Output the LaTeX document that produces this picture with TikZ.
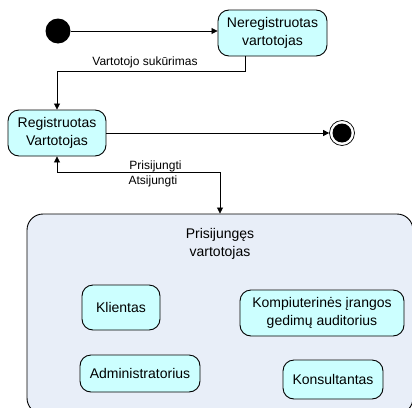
\documentclass[tikz,border=0pt]{standalone}
\usepackage{fontspec}
\setmainfont{Liberation Sans}
\usetikzlibrary{arrows.meta}
\definecolor{statefill}{HTML}{CCFFFF}
\definecolor{groupfill}{HTML}{E8EEF8}
\begin{document}
\begin{tikzpicture}[x=1pt,y=-1pt,
  state/.style={draw=black, line width=0.9pt, fill=statefill, rounded corners=11pt,
    align=center, inner sep=0pt, font=\fontsize{14}{17.5}\selectfont},
  group/.style={draw=black, line width=0.9pt, fill=groupfill, rounded corners=16pt, inner sep=0pt},
  arr/.style={line width=0.8pt, -{Triangle[length=6pt,width=6pt]}},
  arrboth/.style={line width=0.8pt, {Triangle[length=6pt,width=6pt]}-{Triangle[length=6pt,width=6pt]}},
  lbl/.style={font=\fontsize{12}{14}\selectfont, inner sep=0pt, anchor=base}]
\clip (0,0) rectangle (412,407);
\fill[white] (0,0) rectangle (412,407);

% initial and final pseudo-states
\node[circle, fill=black, minimum size=25pt, inner sep=0pt] (start) at (58,31) {};
\node[circle, draw=black, line width=0.7pt, fill=white, minimum size=25pt, inner sep=0pt] (final) at (342,133) {};
\fill[black] (final.center) circle (9.5pt);

% states
\node[state, minimum width=109pt, minimum height=46pt] (nereg) at (272.5,33) {Neregistruotas\\vartotojas};
\node[state, minimum width=98pt, minimum height=46pt] (reg) at (57,133) {Registruotas\\Vartotojas};

% composite state
\node[group, minimum width=386pt, minimum height=200pt] (cont) at (220,314) {};
\node[align=center, font=\fontsize{14}{17.5}\selectfont, inner sep=0pt] (title) at (220,244) {Prisijungęs\\vartotojas};

\node[state, minimum width=78pt, minimum height=45pt] (klient) at (121,307.5) {Klientas};
\node[state, minimum width=164pt, minimum height=46pt] (komp) at (322,313) {Kompiuterinės įrangos\\gedimų auditorius};
\node[state, minimum width=120pt, minimum height=37pt] (admin) at (140,373.5) {Administratorius};
\node[state, minimum width=100pt, minimum height=39pt] (kons) at (333,379.5) {Konsultantas};

% transitions
\draw[arr] (start) -- (nereg.west |- start);
\draw[arr] ([xshift=-27.5pt]nereg.south) -- ++(0,15) -| (reg.north);
\node[lbl] (lcreate) at (145,65) {Vartotojo sukūrimas};
\draw[arr] (reg.east |- final) -- (final.west);
\draw[arrboth] (reg.south) -- ++(0,16) -| (cont.north);
\node[lbl] (lin) at (155.5,169) {Prisijungti};
\node[lbl] (lout) at (153,184.5) {Atsijungti};
\end{tikzpicture}
\end{document}
